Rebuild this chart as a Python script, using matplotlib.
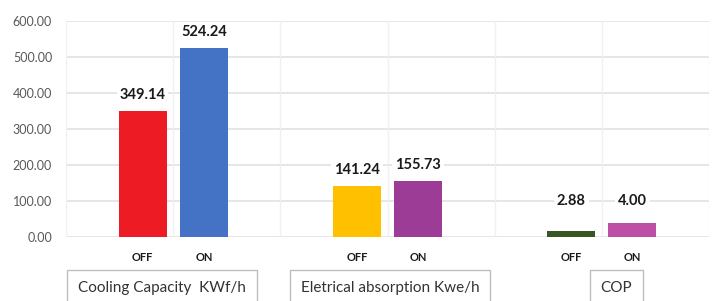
import matplotlib
matplotlib.use("Agg")
import matplotlib.pyplot as plt
import matplotlib.transforms as mtransforms

plt.rcParams['font.family'] = ['Lato', 'DejaVu Sans']

groups = ["Cooling Capacity  KWf/h", "Eletrical absorption Kwe/h", "COP"]
states = ["OFF", "ON"]
bar_heights = [349.14, 524.24, 141.24, 155.73, 17, 40]
bar_labels = ["349.14", "524.24", "141.24", "155.73", "2.88", "4.00"]
bar_colors = ["#ED1C24", "#4472C4", "#FFC000", "#9C3C96", "#375623", "#BE4FA6"]
yticks = [0, 100, 200, 300, 400, 500, 600]

fig = plt.figure(figsize=(7.17, 3.01), dpi=100)
ax = fig.add_axes([66/717, (301-237)/301, (709-66)/717, (237-21)/301])

offset = 0.143
width = 0.224
xs = []
for g in range(len(groups)):
    xs += [g - offset, g + offset]

ax.bar(xs, bar_heights, width=width, color=bar_colors, zorder=3)

ax.set_xlim(-0.5, 2.5)
ax.set_ylim(0, 600)
ax.set_yticks(yticks)
ax.set_yticklabels([f"{v:.2f}" for v in yticks], fontsize=9, color="#595959")
ax.tick_params(axis='y', length=0, pad=10)
ax.set_xticks([])
for s in ax.spines.values():
    s.set_visible(False)

for y in yticks:
    ax.axhline(y, color="#e2e2e2", lw=1.2, zorder=1)
for x in [-0.5, 0, 0.5, 1, 1.5, 2, 2.5]:
    ax.axvline(x, color="#f0f0f0", lw=1.0, zorder=1)

# value labels
for i, (x, h, lab) in enumerate(zip(xs, bar_heights, bar_labels)):
    if i >= 4:
        ax.text(x, 100, lab, ha='center', va='center', fontsize=10.5, fontweight='bold',
                color="#1a1a1a", zorder=4,
                bbox=dict(boxstyle='square,pad=0.2', fc='white', ec='none'))
    else:
        ax.annotate(lab, (x, h), xytext=(0, 16), textcoords='offset pixels',
                    ha='center', va='center', fontsize=10.5, fontweight='bold',
                    color="#1a1a1a", zorder=4,
                    bbox=dict(boxstyle='square,pad=0.2', fc='white', ec='none'))

trans = mtransforms.blended_transform_factory(ax.transData, ax.transAxes)
for i, x in enumerate(xs):
    ax.text(x, -0.093, states[i % 2], transform=trans, ha='center', va='center',
            fontsize=8, fontweight='bold', color="#1a1a1a", clip_on=False)

box_x = [-0.052, 1.012, 2.067]
for gx, name in zip(box_x, groups):
    ax.text(gx, -0.236, name, transform=trans, ha='center', va='center',
            fontsize=11, color="#333333", clip_on=False,
            bbox=dict(boxstyle='square,pad=0.7', fc='white', ec='#bfbfbf', lw=1.0))

fig.savefig("out.png", dpi=100)
